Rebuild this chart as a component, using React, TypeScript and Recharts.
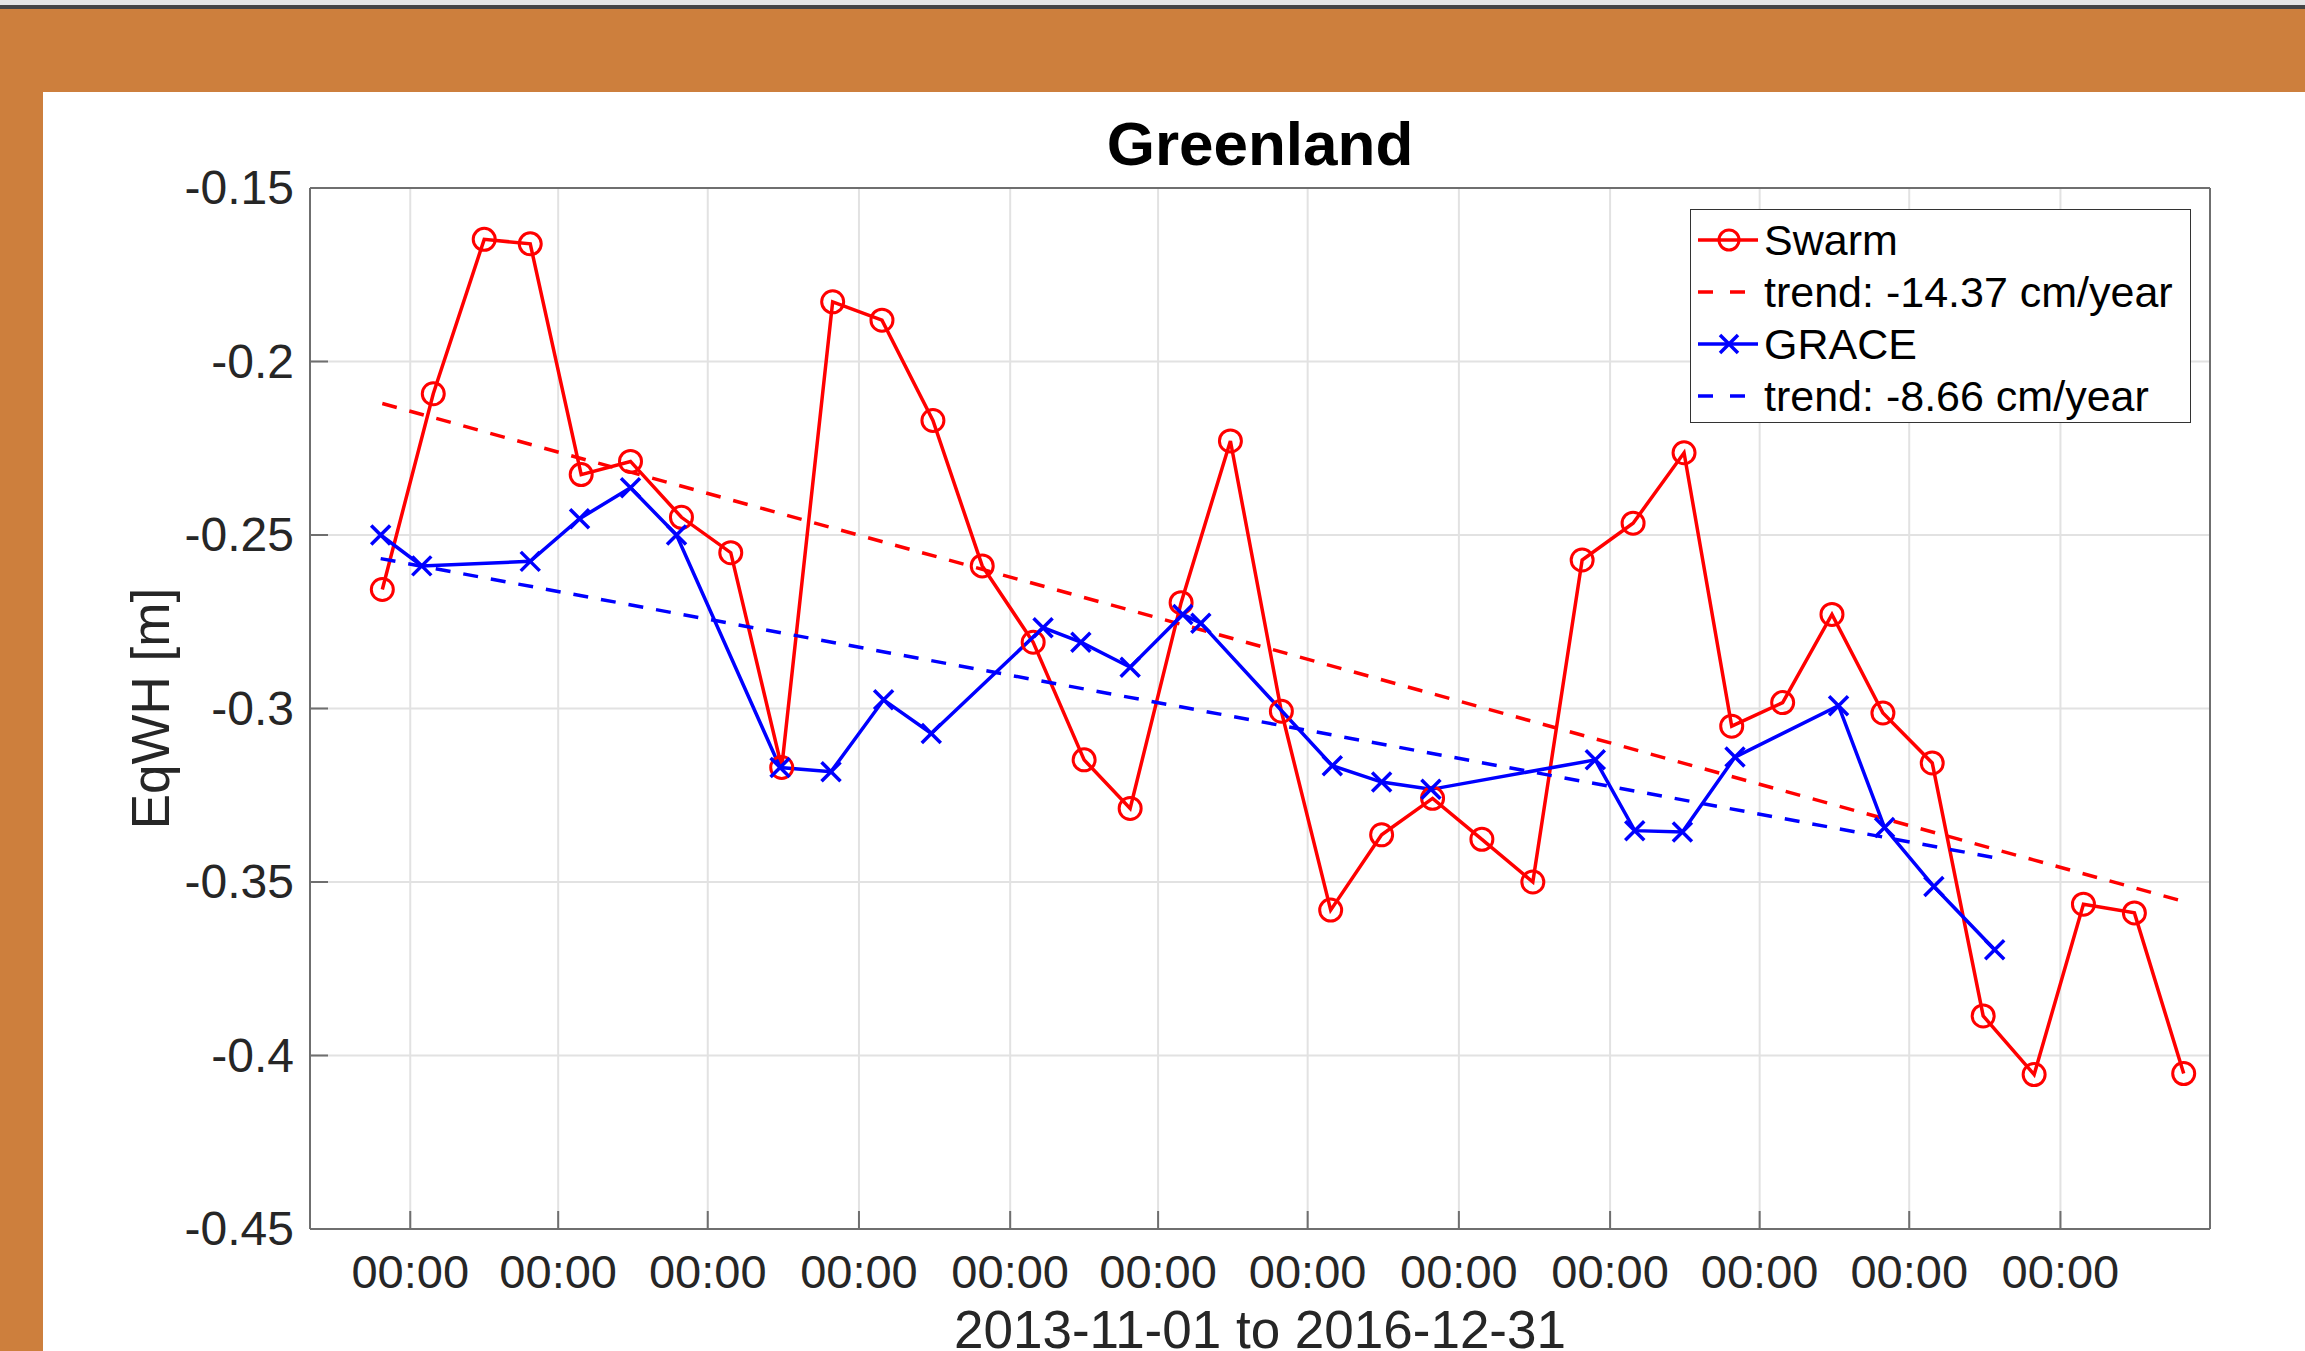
import { LineChart, Line, XAxis, YAxis, CartesianGrid, Legend, Label } from "recharts";

const swarmDates = [
  "2013-12-15", "2014-01-15", "2014-02-15", "2014-03-15", "2014-04-15", "2014-05-15",
  "2014-06-15", "2014-07-15", "2014-08-15", "2014-09-15", "2014-10-15", "2014-11-15",
  "2014-12-15", "2015-01-15", "2015-02-15", "2015-03-15", "2015-04-15", "2015-05-15",
  "2015-06-15", "2015-07-15", "2015-08-15", "2015-09-15", "2015-10-15", "2015-11-15",
  "2015-12-15", "2016-01-15", "2016-02-15", "2016-03-15", "2016-04-15", "2016-05-15",
  "2016-06-15", "2016-07-15", "2016-08-15", "2016-09-15", "2016-10-15", "2016-11-15",
  "2016-12-15",
];
const swarmValues = [
  -0.2657, -0.2093, -0.1648, -0.1661, -0.2326, -0.2288,
  -0.2449, -0.2551, -0.3170, -0.1828, -0.1881, -0.2170,
  -0.2589, -0.2809, -0.3148, -0.3288, -0.2695, -0.2229,
  -0.3008, -0.3581, -0.3364, -0.3259, -0.3377, -0.3500,
  -0.2572, -0.2466, -0.2263, -0.3051, -0.2983, -0.2729,
  -0.3013, -0.3157, -0.3886, -0.4055, -0.3564, -0.3589,
  -0.4052,
];

const graceDates = [
  "2013-12-14", "2014-01-08", "2014-03-15", "2014-04-14", "2014-05-15", "2014-06-12",
  "2014-08-14", "2014-09-14", "2014-10-16", "2014-11-14", "2015-01-21", "2015-02-13",
  "2015-03-15", "2015-04-16", "2015-04-27", "2015-07-16", "2015-08-15", "2015-09-14",
  "2015-12-23", "2016-01-16", "2016-02-14", "2016-03-17", "2016-05-19", "2016-06-16",
  "2016-07-16", "2016-08-22",
];
const graceValues = [
  -0.2500, -0.2589, -0.2576, -0.2453, -0.2364, -0.2500,
  -0.3170, -0.3182, -0.2975, -0.3072, -0.2767, -0.2809,
  -0.2881, -0.2729, -0.2754, -0.3165, -0.3212, -0.3233,
  -0.3148, -0.3352, -0.3356, -0.3140, -0.2992, -0.3343,
  -0.3513, -0.3695,
];

const swarmTrendDates = ["2013-12-15", "2016-12-15"];
const swarmTrendValues = [-0.2121, -0.3556];
const graceTrendDates = ["2013-12-14", "2016-08-22"];
const graceTrendValues = [-0.2568, -0.343];

const xTickDates = [
  "2014-01-01", "2014-04-01", "2014-07-01", "2014-10-01", "2015-01-01", "2015-04-01",
  "2015-07-01", "2015-10-01", "2016-01-01", "2016-04-01", "2016-07-01", "2016-10-01",
];
const xTickLabels = [
  "00:00", "00:00", "00:00", "00:00", "00:00", "00:00",
  "00:00", "00:00", "00:00", "00:00", "00:00", "00:00",
];
const yTicks = [-0.45, -0.4, -0.35, -0.3, -0.25, -0.2, -0.15];

const legendLabels = ["Swarm", "trend: -14.37 cm/year", "GRACE", "trend: -8.66 cm/year"];

const xStart = "2013-11-01";
const xEnd = "2016-12-31";

const FONT = "'Liberation Sans', Arial, Helvetica, sans-serif";
const TEXT = "#262626";
const AXIS = "#6f6f6f";
const TICK_LEN = 18;
const RED = "#ff0000";
const BLUE = "#0000ff";
const DASH = "15 13";
const LW = 3.5;

const toT = (d: string) => Date.parse(d + "T00:00:00Z");

const swarmData = swarmDates.map((d, i) => ({ t: toT(d), v: swarmValues[i] }));
const graceData = graceDates.map((d, i) => ({ t: toT(d), v: graceValues[i] }));
const swarmTrend = swarmTrendDates.map((d, i) => ({ t: toT(d), v: swarmTrendValues[i] }));
const graceTrend = graceTrendDates.map((d, i) => ({ t: toT(d), v: graceTrendValues[i] }));
const xTicks = xTickDates.map(toT);
const xDomain = [toT(xStart), toT(xEnd)];

const fmtY = (v: number) => String(Number(v.toFixed(2)));

const BottomTick = (props: any) => {
  const { x, y, index } = props;
  return (
    <g>
      <line x1={x} y1={y} x2={x} y2={y - TICK_LEN} stroke={AXIS} strokeWidth={2} />
      <text x={x} y={y + 59} textAnchor="middle" fontSize={47} fill={TEXT} fontFamily={FONT}>
        {xTickLabels[index]}
      </text>
    </g>
  );
};

const TopTick = (props: any) => {
  const { x, y } = props;
  return <line x1={x} y1={y} x2={x} y2={y + TICK_LEN} stroke={AXIS} strokeWidth={2} />;
};

const LeftTick = (props: any) => {
  const { x, y, payload } = props;
  return (
    <g>
      <line x1={x} y1={y} x2={x + TICK_LEN} y2={y} stroke={AXIS} strokeWidth={2} />
      <text x={x - 16} y={y + 16} textAnchor="end" fontSize={48} fill={TEXT} fontFamily={FONT}>
        {fmtY(payload.value)}
      </text>
    </g>
  );
};

const RightTick = (props: any) => {
  const { x, y } = props;
  return <line x1={x} y1={y} x2={x - TICK_LEN} y2={y} stroke={AXIS} strokeWidth={2} />;
};

const CrossDot = (props: any) => {
  const { cx, cy, index } = props;
  const s = 9.5;
  return (
    <path
      key={`x-${index}`}
      d={`M${cx - s},${cy - s}L${cx + s},${cy + s}M${cx - s},${cy + s}L${cx + s},${cy - s}`}
      stroke={BLUE}
      strokeWidth={LW}
      fill="none"
    />
  );
};

const LegendBox = () => {
  const rows = [
    { color: RED, dash: undefined, marker: "o" },
    { color: RED, dash: "15 17", marker: "" },
    { color: BLUE, dash: undefined, marker: "x" },
    { color: BLUE, dash: "15 17", marker: "" },
  ];
  return (
    <div
      style={{
        width: 501,
        height: 214,
        border: "1.5px solid #333",
        background: "#fff",
        boxSizing: "border-box",
        paddingTop: 4,
        fontFamily: FONT,
      }}
    >
      {rows.map((r, i) => (
        <div key={i} style={{ display: "flex", alignItems: "center", height: 52 }}>
          <svg width={73} height={52} style={{ display: "block" }}>
            <line x1={7} y1={26} x2={67} y2={26} stroke={r.color} strokeWidth={LW} strokeDasharray={r.dash} />
            {r.marker === "o" && <circle cx={38} cy={26} r={10} stroke={r.color} strokeWidth={3} fill="none" />}
            {r.marker === "x" && (
              <path d="M29,17L47,35M29,35L47,17" stroke={r.color} strokeWidth={LW} fill="none" />
            )}
          </svg>
          <span style={{ fontSize: 43, color: "#000", lineHeight: "52px", whiteSpace: "nowrap" }}>
            {legendLabels[i]}
          </span>
        </div>
      ))}
    </div>
  );
};

export default function App() {
  return (
    <div
      style={{
        position: "absolute",
        left: 0,
        top: 0,
        width: 2305,
        height: 1351,
        background: "#fff",
        overflow: "hidden",
      }}
    >
      <div style={{ position: "absolute", left: 0, top: 0, width: 2305, height: 5, background: "#e4e4e4" }} />
      <div style={{ position: "absolute", left: 0, top: 5, width: 2305, height: 4, background: "#444" }} />
      <div style={{ position: "absolute", left: 0, top: 9, width: 2305, height: 83, background: "#cd7f3d" }} />
      <div style={{ position: "absolute", left: 0, top: 9, width: 43, height: 1342, background: "#cd7f3d" }} />
      <div
        style={{
          position: "absolute",
          left: 310,
          top: 113,
          width: 1900,
          textAlign: "center",
          fontFamily: FONT,
          fontWeight: "bold",
          fontSize: 62,
          lineHeight: "62px",
          color: "#000",
        }}
      >
        Greenland
      </div>
      <div style={{ position: "absolute", left: 0, top: 0 }}>
        <LineChart width={2305} height={1351} margin={{ top: 187, right: 94, bottom: 22, left: 110 }}>
          <CartesianGrid stroke="#e2e2e2" strokeWidth={2} />
          <XAxis
            dataKey="t"
            type="number"
            domain={xDomain}
            ticks={xTicks}
            interval={0}
            height={100}
            tickSize={0}
            tickMargin={0}
            tickLine={false}
            axisLine={{ stroke: AXIS, strokeWidth: 2 }}
            tick={<BottomTick />}
          >
            <Label
              content={(p: any) => {
                const vb = p.viewBox;
                return (
                  <text
                    x={vb.x + vb.width / 2}
                    y={vb.y + 119}
                    textAnchor="middle"
                    fontSize={53}
                    fill={TEXT}
                    fontFamily={FONT}
                  >
                    {`${xStart} to ${xEnd}`}
                  </text>
                );
              }}
            />
          </XAxis>
          <XAxis
            xAxisId="top"
            orientation="top"
            dataKey="t"
            type="number"
            domain={xDomain}
            ticks={xTicks}
            interval={0}
            height={1}
            tickSize={0}
            tickMargin={0}
            tickLine={false}
            axisLine={{ stroke: AXIS, strokeWidth: 2 }}
            tick={<TopTick />}
          />
          <YAxis
            type="number"
            domain={[-0.45, -0.15]}
            ticks={yTicks}
            interval={0}
            width={200}
            tickSize={0}
            tickMargin={0}
            tickLine={false}
            axisLine={{ stroke: AXIS, strokeWidth: 2 }}
            tick={<LeftTick />}
          >
            <Label
              content={(p: any) => {
                const vb = p.viewBox;
                const cx = vb.x + 41;
                const cy = vb.y + vb.height / 2;
                return (
                  <text
                    x={cx}
                    y={cy}
                    dy={18}
                    transform={`rotate(-90, ${cx}, ${cy})`}
                    textAnchor="middle"
                    fontSize={53}
                    fill={TEXT}
                    fontFamily={FONT}
                  >
                    EqWH [m]
                  </text>
                );
              }}
            />
          </YAxis>
          <YAxis
            yAxisId="right"
            orientation="right"
            type="number"
            domain={[-0.45, -0.15]}
            ticks={yTicks}
            interval={0}
            width={1}
            tickSize={0}
            tickMargin={0}
            tickLine={false}
            axisLine={{ stroke: AXIS, strokeWidth: 2 }}
            tick={<RightTick />}
          />
          <Line
            data={swarmData}
            dataKey="v"
            stroke={RED}
            strokeWidth={LW}
            dot={{ r: 11, stroke: RED, strokeWidth: 3, fill: "none" }}
            activeDot={false}
            isAnimationActive={false}
          />
          <Line
            data={swarmTrend}
            dataKey="v"
            stroke={RED}
            strokeWidth={LW}
            strokeDasharray={DASH}
            dot={false}
            activeDot={false}
            isAnimationActive={false}
          />
          <Line
            data={graceData}
            dataKey="v"
            stroke={BLUE}
            strokeWidth={LW}
            dot={<CrossDot />}
            activeDot={false}
            isAnimationActive={false}
          />
          <Line
            data={graceTrend}
            dataKey="v"
            stroke={BLUE}
            strokeWidth={LW}
            strokeDasharray={DASH}
            dot={false}
            activeDot={false}
            isAnimationActive={false}
          />
          <Legend
            layout="horizontal"
            verticalAlign="middle"
            align="center"
            wrapperStyle={{ left: 1690, top: 209, width: 501, height: 214 }}
            content={() => <LegendBox />}
          />
        </LineChart>
      </div>
    </div>
  );
}
